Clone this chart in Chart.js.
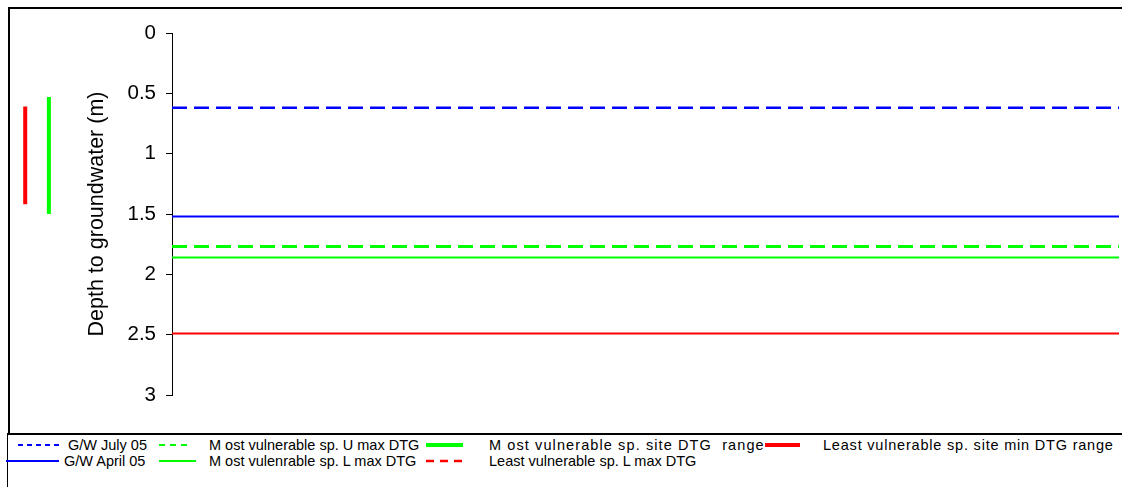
<!DOCTYPE html>
<html>
<head>
<meta charset="utf-8">
<script src="https://cdn.jsdelivr.net/npm/chart.js@4.4.0/dist/chart.umd.min.js"></script>
<style>
  body { margin: 0; background: #fff; font-family: "Liberation Sans", Arial, sans-serif; }
  #wrap { position: relative; width: 1122px; height: 487px; overflow: hidden; }
  #frame { position: absolute; left: 8px; top: 7px; width: 1200px; height: 600px;
           border-left: 2px solid #000; border-top: 2px solid #000; box-sizing: border-box; }
  #chartBox { position: absolute; left: 0; top: 0; width: 1122px; height: 432px; }
  #legend { position: absolute; left: 7px; top: 433px; width: 1200px; height: 100px;
            border-left: 1px solid #000; border-top: 2px solid #000; background: #fff; }
  .item { position: absolute; font-size: 14.5px; color: #000; white-space: pre; line-height: 16px; }
  svg.sample { position: absolute; overflow: visible; }
</style>
</head>
<body>
<div id="wrap">
  <div id="frame"></div>
  <div id="chartBox"><canvas id="chart"></canvas></div>
  <div id="legend"></div>
</div>
<script>
// depth values (m)
const depthTicks = [0, 0.5, 1, 1.5, 2, 2.5, 3];
const julyDepth = 0.62;        // G/W July 05
const aprilDepth = 1.52;       // G/W April 05
const mostUpperMax = 1.77;     // Most vulnerable sp. U max DTG
const mostLowerMax = 1.86;     // Most vulenrable sp. L max DTG
const leastLowerMax = 2.49;    // Least vulnerable sp. L max DTG
const mostSiteRange = [0.53, 1.50];   // Most vulnerable sp. site DTG range
const leastSiteRange = [0.61, 1.42];  // Least vulnerable sp. site min DTG range
// x positions of the two range bars (they sit left of the depth axis)
const rangeX = [-0.130, -0.155];

const BLUE = '#0000ff', GREEN = '#00ff00', RED = '#ff0000';

function hline(label, y, color, width, dash) {
  return {
    label: label,
    data: [{x: 0, y: y}, {x: 1, y: y}],
    borderColor: color,
    borderWidth: width,
    borderDash: dash || [],
    pointRadius: 0,
    fill: false
  };
}

function vbar(label, x, range, color) {
  return {
    label: label,
    data: [{x: x, y: range[0]}, {x: x, y: range[1]}],
    borderColor: color,
    borderWidth: 4,
    borderCapStyle: 'butt',
    pointRadius: 0,
    fill: false,
    clip: false
  };
}

const datasets = [
  hline('G/W July 05', julyDepth, BLUE, 2.5, [15, 7]),
  hline('G/W April 05', aprilDepth, BLUE, 2),
  hline('Most vulnerable sp. U max DTG', mostUpperMax, GREEN, 3, [15, 7]),
  hline('Most vulenrable sp. L max DTG', mostLowerMax, GREEN, 2),
  hline('Least vulnerable sp. L max DTG', leastLowerMax, RED, 2),
  vbar('Most vulnerable sp. site DTG range', rangeX[0], mostSiteRange, GREEN),
  vbar('Least vulnerable sp. site min DTG range', rangeX[1], leastSiteRange, RED)
];

new Chart(document.getElementById('chart'), {
  type: 'line',
  data: { datasets: datasets },
  options: {
    responsive: true,
    maintainAspectRatio: false,
    animation: false,
    layout: { padding: { top: 33, bottom: 37, left: 0, right: 3 } },
    plugins: { legend: { display: false }, tooltip: { enabled: false } },
    scales: {
      x: {
        type: 'linear',
        min: 0,
        max: 1,
        display: false
      },
      y: {
        type: 'linear',
        position: 'left',
        reverse: true,
        min: 0,
        max: 3,
        afterBuildTicks: function(scale) {
          scale.ticks = depthTicks.map(v => ({ value: v }));
        },
        afterFit: function(scale) {
          scale.width = 172;
        },
        ticks: {
          color: '#000',
          padding: 10,
          font: { family: '"Liberation Sans", Arial, sans-serif', size: 20.5 },
          callback: v => String(v)
        },
        grid: { drawOnChartArea: false, tickLength: 6, color: '#000' },
        border: { color: '#000', width: 1 },
        title: {
          display: true,
          text: 'Depth to groundwater (m)',
          color: '#000',
          font: { family: '"Liberation Sans", Arial, sans-serif', size: 21.5 },
          padding: { top: 84, bottom: 0 }
        }
      }
    }
  }
});

// legend laid out like the original, two rows
const legendItems = [
  { row: 0, sx: 10, sw: 45, color: BLUE, width: 2, dash: '5,4', text: 'G/W July 05', tx: 60, ls: 0 },
  { row: 0, sx: 151, sw: 32, color: GREEN, width: 2, dash: '6,5', text: 'M ost vulnerable sp. U max DTG', tx: 201, ls: 0 },
  { row: 0, sx: 418, sw: 37, color: GREEN, width: 4, dash: '', text: 'M ost vulnerable sp. site DTG  range', tx: 481, ls: 1.1 },
  { row: 0, sx: 757, sw: 35, color: RED, width: 4, dash: '', text: 'Least vulnerable sp. site min DTG range', tx: 815, ls: 0.8 },
  { row: 1, sx: -2, sw: 53, color: BLUE, width: 2, dash: '', text: 'G/W April 05', tx: 56, ls: 0 },
  { row: 1, sx: 151, sw: 37, color: GREEN, width: 2, dash: '', text: 'M ost vulenrable sp. L max DTG', tx: 201, ls: 0 },
  { row: 1, sx: 418, sw: 37, color: RED, width: 2.5, dash: '8,6', text: 'Least vulnerable sp. L max DTG', tx: 481, ls: 0 }
];

const legend = document.getElementById('legend');
legendItems.forEach(function(it) {
  const cy = it.row === 0 ? 10 : 26;
  const svg = document.createElementNS('http://www.w3.org/2000/svg', 'svg');
  svg.setAttribute('class', 'sample');
  svg.setAttribute('width', it.sw);
  svg.setAttribute('height', 6);
  svg.style.left = it.sx + 'px';
  svg.style.top = (cy - 3) + 'px';
  const line = document.createElementNS('http://www.w3.org/2000/svg', 'line');
  line.setAttribute('x1', 0); line.setAttribute('x2', it.sw);
  line.setAttribute('y1', 3); line.setAttribute('y2', 3);
  line.setAttribute('stroke', it.color);
  line.setAttribute('stroke-width', it.width);
  if (it.dash) line.setAttribute('stroke-dasharray', it.dash);
  svg.appendChild(line);
  legend.appendChild(svg);

  const span = document.createElement('div');
  span.className = 'item';
  span.textContent = it.text;
  span.style.left = it.tx + 'px';
  span.style.top = (cy - 8) + 'px';
  span.style.letterSpacing = it.ls + 'px';
  legend.appendChild(span);
});
</script>
</body>
</html>
